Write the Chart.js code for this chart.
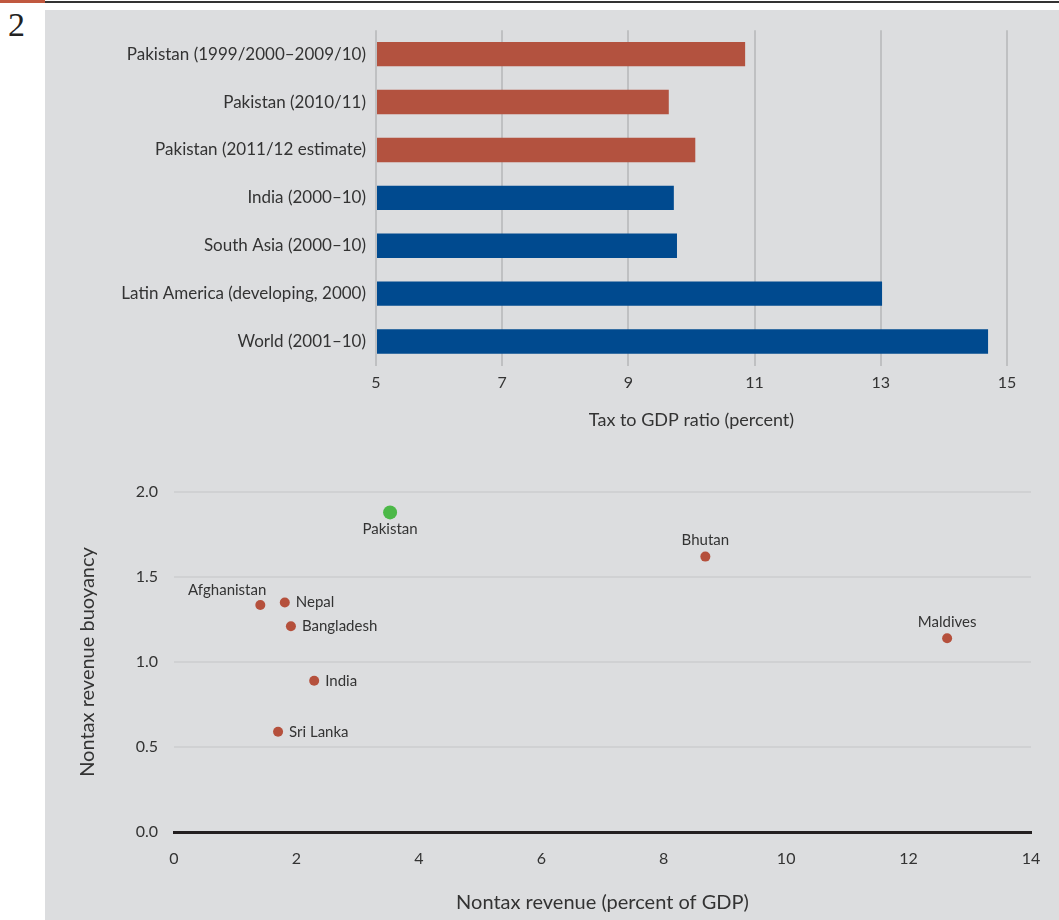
<!DOCTYPE html>
<html>
<head>
<meta charset="utf-8">
<script src="https://cdn.jsdelivr.net/npm/chart.js@4"></script>
<style>
  body { margin: 0; background: #fff; width: 1059px; height: 920px; position: relative; overflow: hidden; font-family: Lato, sans-serif; }
  #redline { position: absolute; left: 0; top: 0; width: 45px; height: 3px; background: #c0583f; }
  #topline { position: absolute; left: 45px; top: 1px; width: 1014px; height: 2px; background: #333; }
  #num { position: absolute; left: 8px; top: 6px; font: 34px "Liberation Serif", serif; color: #222; }
  #panel { position: absolute; left: 45px; top: 10px; width: 1014px; height: 910px; background: #dcdddf; }
  #panel canvas { position: absolute; left: 0; }
</style>
</head>
<body>
<div id="redline"></div>
<div id="topline"></div>
<div id="num">2</div>
<div id="panel">
  <canvas id="bars" width="1014" height="430" style="top:0"></canvas>
  <canvas id="scatter" width="1014" height="480" style="top:430px"></canvas>
</div>
<script>
// top panel: tax to GDP ratio
var barLabels = ["Pakistan (1999/2000\u20132009/10)", "Pakistan (2010/11)", "Pakistan (2011/12 estimate)",
                 "India (2000\u201310)", "South Asia (2000\u201310)", "Latin America (developing, 2000)", "World (2001\u201310)"];
var taxToGdp = [10.85, 9.64, 10.06, 9.72, 9.77, 13.02, 14.70];
var barGroup = ["pakistan", "pakistan", "pakistan", "other", "other", "other", "other"];
var taxTicks = [5, 7, 9, 11, 13, 15];

// bottom panel: nontax revenue
var countries = ["Pakistan", "Bhutan", "Maldives", "Afghanistan", "Nepal", "Bangladesh", "India", "Sri Lanka"];
var nontaxRevenue = [3.53, 8.68, 12.63, 1.41, 1.81, 1.91, 2.29, 1.70];
var buoyancy = [1.88, 1.62, 1.14, 1.335, 1.35, 1.21, 0.89, 0.59];
var labelSide = ["below", "above", "above", "aboveleft", "right", "right", "right", "right"];

var colors = { pakistan: "#b3523f", other: "#004a8f" };
var txt = "#333";
var fnt = "Lato";

new Chart(document.getElementById('bars'), {
  type: 'bar',
  data: {
    labels: barLabels,
    datasets: [{
      data: taxToGdp,
      base: 5,
      backgroundColor: barGroup.map(function(g) { return colors[g]; }),
      categoryPercentage: 1,
      barPercentage: 0.51
    }]
  },
  options: {
    indexAxis: 'y',
    responsive: false,
    animation: false,
    events: [],
    layout: { padding: { top: 13.5, right: 52, left: 0, bottom: 0 } },
    plugins: { legend: { display: false }, tooltip: { enabled: false } },
    scales: {
      x: {
        min: 5, max: 15,
        afterBuildTicks: function(s) { s.ticks = taxTicks.map(function(v) { return { value: v }; }); },
        afterFit: function(s) { s.height = 74.5; },
        grid: { color: '#bfc0c2', lineWidth: 2, drawTicks: false },
        border: { display: false },
        ticks: { color: txt, padding: 8, font: { family: fnt, size: 16 } },
        title: { display: true, text: 'Tax to GDP ratio (percent)', color: txt,
                 font: { family: fnt, size: 18 }, padding: { top: 0, bottom: 9 } }
      },
      y: {
        afterFit: function(s) { s.width = 331; },
        grid: { display: false, drawTicks: false },
        border: { display: false },
        ticks: { color: txt, padding: 10, font: { family: fnt, size: 17 } }
      }
    }
  }
});

var pointLabels = {
  id: 'pointLabels',
  afterDatasetsDraw: function(chart) {
    var ctx = chart.ctx;
    var meta = chart.getDatasetMeta(0);
    ctx.save();
    ctx.font = '15px ' + fnt;
    ctx.fillStyle = txt;
    meta.data.forEach(function(pt, i) {
      var side = labelSide[i];
      if (side === 'right') {
        ctx.textAlign = 'left'; ctx.textBaseline = 'middle';
        ctx.fillText(countries[i], pt.x + 11, pt.y);
      } else if (side === 'above') {
        ctx.textAlign = 'center'; ctx.textBaseline = 'middle';
        ctx.fillText(countries[i], pt.x, pt.y - 16);
      } else if (side === 'below') {
        ctx.textAlign = 'center'; ctx.textBaseline = 'middle';
        ctx.fillText(countries[i], pt.x, pt.y + 17);
      } else {
        ctx.textAlign = 'right'; ctx.textBaseline = 'middle';
        ctx.fillText(countries[i], pt.x + 6, pt.y - 15);
      }
    });
    ctx.restore();
  }
};

new Chart(document.getElementById('scatter'), {
  type: 'scatter',
  data: {
    datasets: [{
      data: countries.map(function(c, i) { return { x: nontaxRevenue[i], y: buoyancy[i] }; }),
      pointBackgroundColor: countries.map(function(c) { return c === 'Pakistan' ? '#4cb848' : '#b5503c'; }),
      pointBorderWidth: 0,
      pointRadius: countries.map(function(c) { return c === 'Pakistan' ? 7 : 5; }),
      clip: false
    }]
  },
  options: {
    responsive: false,
    animation: false,
    events: [],
    layout: { padding: { top: 52, right: 28, left: 0, bottom: 0 } },
    plugins: { legend: { display: false }, tooltip: { enabled: false } },
    scales: {
      x: {
        min: 0, max: 14,
        ticks: { stepSize: 2, color: txt, padding: 17, font: { family: fnt, size: 16 } },
        afterFit: function(s) { s.height = 88; },
        grid: { display: false, drawTicks: false },
        border: { display: true, color: '#231f20', width: 3 },
        title: { display: true, text: 'Nontax revenue (percent of GDP)', color: txt,
                 font: { family: fnt, size: 20 }, padding: { top: 0, bottom: 5 } }
      },
      y: {
        min: 0, max: 2,
        ticks: { stepSize: 0.5, color: txt, padding: 16, font: { family: fnt, size: 16 },
                 callback: function(v) { return v.toFixed(1); } },
        afterFit: function(s) { s.width = 129; },
        grid: { drawTicks: false, lineWidth: 2,
                color: function(c) { return c.tick && c.tick.value === 0 ? 'rgba(0,0,0,0)' : '#d0d1d3'; } },
        border: { display: false },
        title: { display: true, text: 'Nontax revenue buoyancy', color: txt,
                 font: { family: fnt, size: 20 }, padding: { top: 31, bottom: 0 } }
      }
    }
  },
  plugins: [pointLabels]
});
</script>
</body>
</html>
